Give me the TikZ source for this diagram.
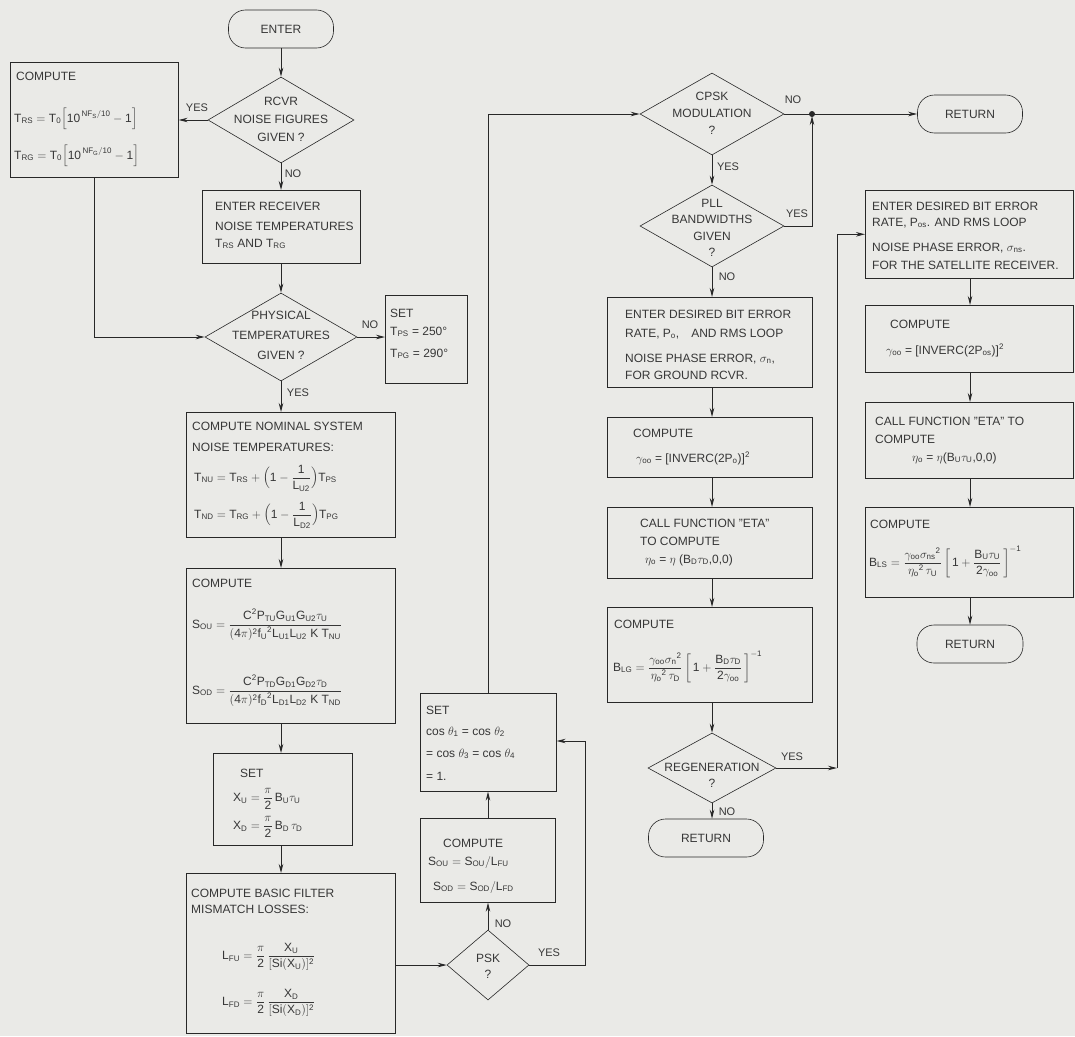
\documentclass[tikz,border=0pt]{standalone}
\usepackage{amsmath}
\usepackage{fontspec}
\setmainfont{Liberation Sans}
\usetikzlibrary{shapes.geometric,arrows.meta}
\definecolor{paper}{RGB}{234,234,231}
\definecolor{ink}{RGB}{55,55,55}
\definecolor{linec}{RGB}{40,40,40}
\newcommand\tx[1]{\text{#1}}
\begin{document}
\begin{tikzpicture}[x=1pt,y=-1pt,
 every node/.style={text=ink},
 box/.style={draw=linec, line width=0.6pt, anchor=north west, inner sep=0pt, rectangle},
 dia/.style={draw=linec, line width=0.6pt, diamond, inner sep=0pt},
 term/.style={draw=linec, line width=0.6pt, rectangle, rounded corners=17pt, inner sep=0pt, font=\fontsize{12}{15}\selectfont},
 txt/.style={anchor=base west, inner sep=0pt, font=\fontsize{12}{15}\selectfont},
 fml/.style={anchor=west, inner sep=0pt, font=\fontsize{12}{15}\selectfont},
 ctxt/.style={align=center, inner sep=0pt},
 lab/.style={inner sep=1pt, font=\fontsize{11}{13}\selectfont},
 flow/.style={draw=linec, line width=0.9pt, -{Stealth[length=9pt,width=4.5pt]}},
 conn/.style={draw=linec, line width=0.9pt}]
\useasboundingbox (0,0) rectangle (1075,1036);
\fill[paper] (0,0) rectangle (1075,1036);

% ---------------- left / first column ----------------
\node[term, minimum width=105, minimum height=38] (enter) at (281,29) {ENTER};
\node[dia, minimum width=146, minimum height=86] (rcvr) at (281,120) {};
\node[ctxt, font=\fontsize{12}{18}\selectfont] (rcvrt) at (281,119) {RCVR\\NOISE FIGURES\\GIVEN ?};

\node[box, minimum width=168, minimum height=115] (cmpnf) at (10,62) {};
\node[txt] (c0a) at (16,80) {COMPUTE};
\node[fml] (c0b) at (14,119) {$\tx{T}_{\tx{RS}} = \tx{T}_{\tx{0}}\Bigl[\tx{10}^{\,\tx{NF}_{\tx{S}}/\tx{10}} - \tx{1}\Bigr]$};
\node[fml] (c0c) at (14,156) {$\tx{T}_{\tx{RG}} = \tx{T}_{\tx{0}}\Bigl[\tx{10}^{\,\tx{NF}_{\tx{G}}/\tx{10}} - \tx{1}\Bigr]$};

\node[box, minimum width=158, minimum height=73] (entr) at (202,190) {};
\node[txt] (er1) at (215,210) {ENTER RECEIVER};
\node[txt] (er2) at (215,230) {NOISE TEMPERATURES};
\node[txt] (er3) at (215,247) {$\tx{T}_{\tx{RS}}$ AND $\tx{T}_{\tx{RG}}$};

\node[dia, minimum width=152, minimum height=88] (phys) at (281,337) {};
\node[ctxt, font=\fontsize{12}{20}\selectfont] (physt) at (281,335) {PHYSICAL\\TEMPERATURES\\GIVEN ?};

\node[box, minimum width=82, minimum height=88] (setp) at (385,295) {};
\node[txt] (sp1) at (390,317) {SET};
\node[txt] (sp2) at (390,335) {$\tx{T}_{\tx{PS}}$ = 250°};
\node[txt] (sp3) at (390,357) {$\tx{T}_{\tx{PG}}$ = 290°};

\node[box, minimum width=209, minimum height=125] (nom) at (186,412) {};
\node[txt] (nm1) at (192,430) {COMPUTE NOMINAL SYSTEM};
\node[txt] (nm2) at (192,451) {NOISE TEMPERATURES:};
\node[fml] (nm3) at (194,478) {$\tx{T}_{\tx{NU}} = \tx{T}_{\tx{RS}} + \Bigl(\tx{1} - \dfrac{\tx{1}}{\tx{L}_{\tx{U2}}}\Bigr)\tx{T}_{\tx{PS}}$};
\node[fml] (nm4) at (194,515) {$\tx{T}_{\tx{ND}} = \tx{T}_{\tx{RG}} + \Bigl(\tx{1} - \dfrac{\tx{1}}{\tx{L}_{\tx{D2}}}\Bigr)\tx{T}_{\tx{PG}}$};

\node[box, minimum width=209, minimum height=155] (sbox) at (186,568) {};
\node[txt] (sb1) at (192,587) {COMPUTE};
\node[fml] (sb2) at (192,625) {$\tx{S}_{\tx{OU}} = \dfrac{\tx{C}^{\tx{2}}\tx{P}_{\tx{TU}}\tx{G}_{\tx{U1}}\tx{G}_{\tx{U2}}\tau_{\tx{U}}}{(\tx{4}\pi)^{\tx{2}}{\tx{f}_{\tx{U}}}^{\tx{2}}\tx{L}_{\tx{U1}}\tx{L}_{\tx{U2}}\;\tx{K}\;\tx{T}_{\tx{NU}}}$};
\node[fml] (sb3) at (192,691) {$\tx{S}_{\tx{OD}} = \dfrac{\tx{C}^{\tx{2}}\tx{P}_{\tx{TD}}\tx{G}_{\tx{D1}}\tx{G}_{\tx{D2}}\tau_{\tx{D}}}{(\tx{4}\pi)^{\tx{2}}{\tx{f}_{\tx{D}}}^{\tx{2}}\tx{L}_{\tx{D1}}\tx{L}_{\tx{D2}}\;\tx{K}\;\tx{T}_{\tx{ND}}}$};

\node[box, minimum width=139, minimum height=92] (setx) at (213,753) {};
\node[txt] (sx1) at (240,777) {SET};
\node[fml] (sx2) at (233,799) {$\tx{X}_{\tx{U}} = \dfrac{\pi}{\tx{2}}\,\tx{B}_{\tx{U}}\tau_{\tx{U}}$};
\node[fml] (sx3) at (233,827) {$\tx{X}_{\tx{D}} = \dfrac{\pi}{\tx{2}}\,\tx{B}_{\tx{D}}\,\tau_{\tx{D}}$};

\node[box, minimum width=209, minimum height=160] (filt) at (186,873) {};
\node[txt] (fl1) at (191,897) {COMPUTE BASIC FILTER};
\node[txt] (fl2) at (191,913) {MISMATCH LOSSES:};
\node[fml] (fl3) at (222,957) {$\tx{L}_{\tx{FU}} = \dfrac{\pi}{\tx{2}}\,\dfrac{\tx{X}_{\tx{U}}}{[\tx{Si}(\tx{X}_{\tx{U}})]^{\tx{2}}}$};
\node[fml] (fl4) at (222,1003) {$\tx{L}_{\tx{FD}} = \dfrac{\pi}{\tx{2}}\,\dfrac{\tx{X}_{\tx{D}}}{[\tx{Si}(\tx{X}_{\tx{D}})]^{\tx{2}}}$};

% ---------------- second column ----------------
\node[dia, minimum width=82, minimum height=70] (psk) at (488,965) {};
\node[ctxt, font=\fontsize{12}{16}\selectfont] (pskt) at (488,966) {PSK\\?};

\node[box, minimum width=135, minimum height=84] (sadj) at (420,818) {};
\node[txt] (sa1) at (443,847) {COMPUTE};
\node[txt] (sa2) at (428,865) {$\tx{S}_{\tx{OU}} = \tx{S}_{\tx{OU}}/\tx{L}_{\tx{FU}}$};
\node[txt] (sa3) at (433,890) {$\tx{S}_{\tx{OD}} = \tx{S}_{\tx{OD}}/\tx{L}_{\tx{FD}}$};

\node[box, minimum width=136, minimum height=98] (setc) at (420,693) {};
\node[txt] (sc1) at (426,714) {SET};
\node[txt] (sc2) at (426,735) {cos $\theta_{\tx{1}}$ = cos $\theta_{\tx{2}}$};
\node[txt] (sc3) at (426,757) {= cos $\theta_{\tx{3}}$ = cos $\theta_{\tx{4}}$};
\node[txt] (sc4) at (426,780) {= 1.};

% ---------------- third column ----------------
\node[dia, minimum width=144, minimum height=82] (cpsk) at (712,114) {};
\node[ctxt, font=\fontsize{12}{17}\selectfont] (cpskt) at (712,113) {CPSK\\MODULATION\\?};
\node[term, minimum width=105, minimum height=38] (ret1) at (970,114) {RETURN};
\coordinate (jn) at (812,114);

\node[dia, minimum width=144, minimum height=82] (pll) at (712,226) {};
\node[ctxt, font=\fontsize{12}{16.5}\selectfont] (pllt) at (712,228) {PLL\\BANDWIDTHS\\GIVEN\\?};
\coordinate (pc) at (812,226);

\node[box, minimum width=205, minimum height=90] (gent) at (607,297) {};
\node[txt] (ge1) at (625,318) {ENTER DESIRED BIT ERROR};
\node[txt] (ge2) at (625,337) {RATE, $\tx{P}_{\tx{o}}$,\quad AND RMS LOOP};
\node[txt] (ge3) at (625,362) {NOISE PHASE ERROR, $\sigma_{\tx{n}}$,};
\node[txt] (ge4) at (625,379) {FOR GROUND RCVR.};

\node[box, minimum width=205, minimum height=60] (ggam) at (607,417) {};
\node[txt] (gg1) at (633,437) {COMPUTE};
\node[txt] (gg2) at (636,462) {$\gamma_{\tx{oo}}$ = [INVERC(2$\tx{P}_{\tx{o}}$)]$^{\tx{2}}$};

\node[box, minimum width=205, minimum height=71] (gcall) at (607,507) {};
\node[txt] (gc1) at (640,527) {CALL FUNCTION "ETA"};
\node[txt] (gc2) at (640,545) {TO COMPUTE};
\node[txt] (gc3) at (645,563) {$\eta_{\tx{o}}$ = $\eta$ ($\tx{B}_{\tx{D}}\tau_{\tx{D}}$,0,0)};

\node[box, minimum width=205, minimum height=95] (gblg) at (607,607) {};
\node[txt] (gb1) at (614,628) {COMPUTE};
\node[fml] (gb2) at (613,667) {$\tx{B}_{\tx{LG}} = \dfrac{\gamma_{\tx{oo}}{\sigma_{\tx{n}}}^{\tx{2}}}{{\eta_{\tx{o}}}^{\tx{2}}\,\tau_{\tx{D}}}\left[\,\tx{1} + \dfrac{\tx{B}_{\tx{D}}\tau_{\tx{D}}}{\tx{2}\gamma_{\tx{oo}}}\,\right]^{-\tx{1}}$};

\node[dia, minimum width=128, minimum height=70] (regen) at (712,768) {};
\node[ctxt, font=\fontsize{12}{16}\selectfont] (regt) at (712,775) {REGENERATION\\?};
\node[term, minimum width=115, minimum height=38] (ret2) at (706,838) {RETURN};
\coordinate (rc) at (837,768);

% ---------------- right column ----------------
\node[box, minimum width=208, minimum height=88] (sent) at (865,190) {};
\node[txt] (se1) at (872,210) {ENTER DESIRED BIT ERROR};
\node[txt] (se2) at (872,226) {RATE, $\tx{P}_{\tx{os}}$. AND RMS LOOP};
\node[txt] (se3) at (872,251) {NOISE PHASE ERROR, $\sigma_{\tx{ns}}$.};
\node[txt] (se4) at (872,269) {FOR THE SATELLITE RECEIVER.};

\node[box, minimum width=208, minimum height=67] (sgam) at (865,305) {};
\node[txt] (sg1) at (890,328) {COMPUTE};
\node[txt] (sg2) at (886,354) {$\gamma_{\tx{oo}}$ = [INVERC(2$\tx{P}_{\tx{os}}$)]$^{\tx{2}}$};

\node[box, minimum width=208, minimum height=76] (scall) at (865,402) {};
\node[txt] (sl1) at (875,425) {CALL FUNCTION "ETA" TO};
\node[txt] (sl2) at (875,443) {COMPUTE};
\node[txt] (sl3) at (912,461) {$\eta_{\tx{o}}$ = $\eta$($\tx{B}_{\tx{U}}\tau_{\tx{U}}$,0,0)};

\node[box, minimum width=208, minimum height=90] (sbls) at (865,507) {};
\node[txt] (ss1) at (870,528) {COMPUTE};
\node[fml] (ss2) at (869,562) {$\tx{B}_{\tx{LS}} = \dfrac{\gamma_{\tx{oo}}{\sigma_{\tx{ns}}}^{\tx{2}}}{{\eta_{\tx{o}}}^{\tx{2}}\,\tau_{\tx{U}}}\left[\,\tx{1} + \dfrac{\tx{B}_{\tx{U}}\tau_{\tx{U}}}{\tx{2}\gamma_{\tx{oo}}}\,\right]^{-\tx{1}}$};

\node[term, minimum width=106, minimum height=38] (ret3) at (970,644) {RETURN};

\coordinate (yc1) at (585,965);
\coordinate (yc2) at (585,741);
\coordinate (up1) at (488,114);

% ---------------- labels ----------------
\node[lab] (l1) at (197,108) {YES};
\node[lab] (l2) at (293,174) {NO};
\node[lab] (l3) at (370,325) {NO};
\node[lab] (l4) at (298,393) {YES};
\node[lab] (l5) at (503,924) {NO};
\node[lab] (l6) at (549,953) {YES};
\node[lab] (l7) at (793,100) {NO};
\node[lab] (l8) at (728,167) {YES};
\node[lab] (l9) at (797,214) {YES};
\node[lab] (l10) at (727,277) {NO};
\node[lab] (l11) at (792,757) {YES};
\node[lab] (l12) at (727,812) {NO};

% ---------------- connectors ----------------
\draw[flow] (enter.south) -- (rcvr.north);
\draw[flow] (rcvr.west) -- (rcvr.west -| cmpnf.east);
\draw[flow] (rcvr.south) -- (rcvr.south |- entr.north);
\draw[flow] (entr.south -| phys.north) -- (phys.north);
\draw[flow] (cmpnf.south) |- (phys.west);
\draw[flow] (phys.east) -- (phys.east -| setp.west);
\draw[flow] (phys.south) -- (phys.south |- nom.north);
\draw[flow] (phys.south |- nom.south) -- (phys.south |- sbox.north);
\draw[flow] (phys.south |- sbox.south) -- (phys.south |- setx.north);
\draw[flow] (phys.south |- setx.south) -- (phys.south |- filt.north);
\draw[flow] (psk.west -| filt.east) -- (psk.west);
\draw[flow] (psk.north) -- (psk.north |- sadj.south);
\draw[flow] (psk.north |- sadj.north) -- (psk.north |- setc.south);
\draw[flow] (psk.east) -- (yc1) -- (yc2) -- (yc2 -| setc.east);
\draw[flow] (psk.north |- setc.north) -- (up1) -- (cpsk.west);
\draw[conn] (cpsk.east) -- (jn);
\fill[linec] (jn) circle (3pt);
\draw[flow] (jn) -- (ret1.west);
\draw[flow] (cpsk.south) -- (pll.north);
\draw[flow, shorten >=2pt] (pll.east) -- (pc) -- (jn);
\draw[flow] (pll.south) -- (pll.south |- gent.north);
\draw[flow] (pll.south |- gent.south) -- (pll.south |- ggam.north);
\draw[flow] (pll.south |- ggam.south) -- (pll.south |- gcall.north);
\draw[flow] (pll.south |- gcall.south) -- (pll.south |- gblg.north);
\draw[flow] (pll.south |- gblg.south) -- (regen.north);
\draw[flow] (regen.south) -- (regen.south |- ret2.north);
\draw[flow] (regen.east) -- (rc);
\draw[flow] (rc) |- (sent.west);
\draw[flow] (ret3.north |- sent.south) -- (ret3.north |- sgam.north);
\draw[flow] (ret3.north |- sgam.south) -- (ret3.north |- scall.north);
\draw[flow] (ret3.north |- scall.south) -- (ret3.north |- sbls.north);
\draw[flow] (ret3.north |- sbls.south) -- (ret3.north);
\end{tikzpicture}
\end{document}
